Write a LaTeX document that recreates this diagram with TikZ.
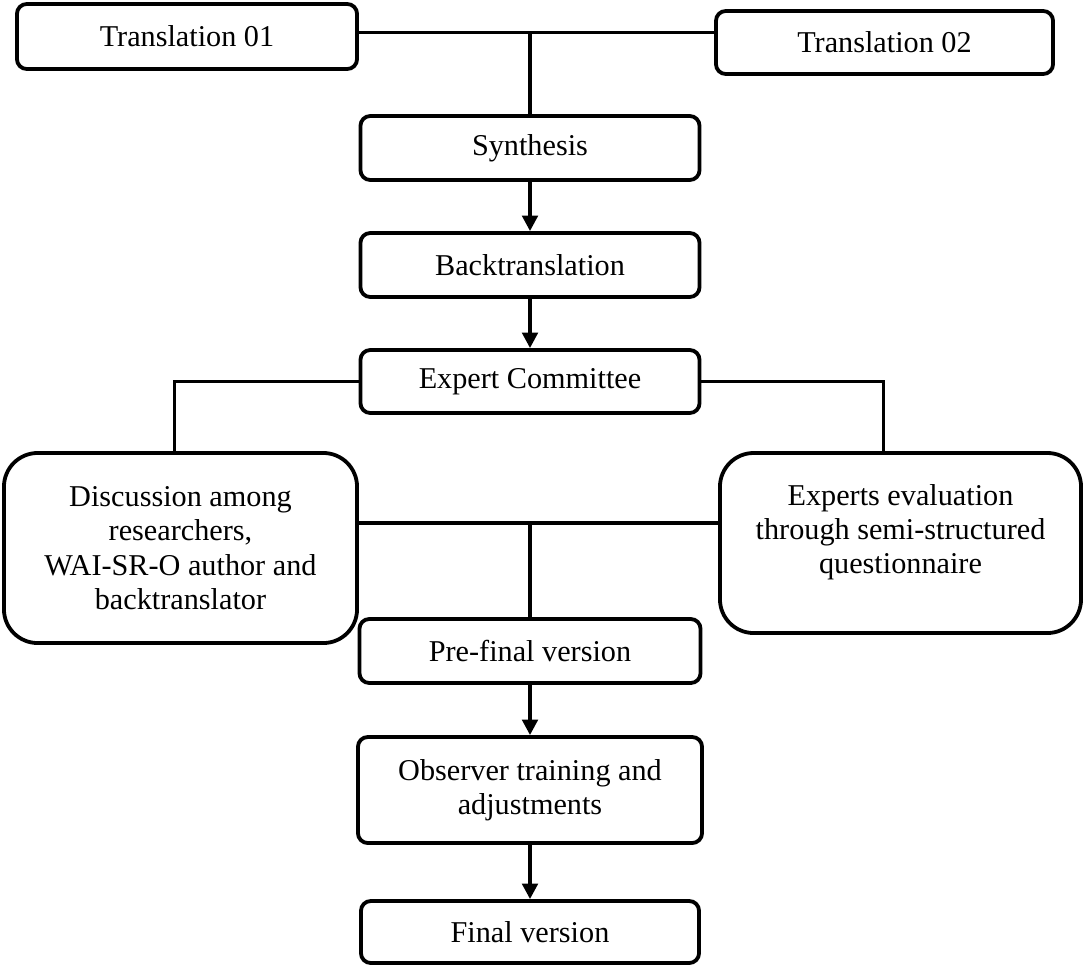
\documentclass[tikz,border=0pt]{standalone}
\usepackage{fontspec}
\setmainfont{Liberation Serif}
\usetikzlibrary{arrows.meta, calc}

\begin{document}
\begin{tikzpicture}[x=0.025cm, y=-0.025cm, >={Triangle[length=11pt, width=11pt]}, line width=2.5pt,
  box/.style={draw, line width=2.7pt, rounded corners=7pt, inner sep=0pt, align=center,
    minimum width=8.475cm, minimum height=1.6cm, font=\fontsize{21.5}{24.5}\selectfont},
  bigbox/.style={box, rounded corners=24pt}]

% Page frame
\useasboundingbox (0,0) rectangle (1084,969);

%% Translations
\node[box, minimum width=8.5cm, minimum height=1.625cm] (trans1) at (187,36.5) {Translation 01};
\node[box, minimum width=8.425cm, minimum height=1.575cm] (trans2) at (884.5,42.5) {Translation 02};

%% Main column
\node[box] (synth) at (530,148) {Synthesis};
\node[box] (backtr) at (530,265) {Backtranslation};
\node[box, minimum height=1.575cm] (expert) at (530,381.5) {Expert Committee};

%% Two branches
\node[bigbox, minimum width=8.825cm, minimum height=4.75cm] (discuss) at (180.5,548)
  {Discussion among\\researchers,\\WAI-SR-O author and\\backtranslator};
\node[bigbox, minimum width=9.025cm, minimum height=4.5cm, text depth=0.7cm] (evalq) at (900.5,543)
  {Experts evaluation\\through semi-structured\\questionnaire};

%% Final steps
\node[box, minimum width=8.525cm] (prefinal) at (530,651) {Pre-final version};
\node[box, minimum width=8.6cm, minimum height=2.65cm] (observe) at (530,790)
  {Observer training and\\adjustments};
\node[box, minimum width=8.45cm, minimum height=1.55cm] (final) at (530,932) {Final version};

% Join of the translations
\coordinate (top) at ([yshift=1mm]trans1.east);
\draw (top) -- (top -| trans2.west);
\draw (top -| synth.north) -- (synth.north);

% Straight chain
\draw[->] (synth) -- (backtr);
\draw[->] (backtr) -- (expert);

% Committee splits
\draw (expert.west) -| ([xshift=-1.5mm]discuss.north);
\draw (expert.east) -| ([xshift=-4.2mm]evalq.north);

% Branches join again
\coordinate (join) at ([yshift=6.2mm]discuss.east);
\draw (join) -- (join -| evalq.west);
\draw (join -| prefinal.north) -- (prefinal.north);

\draw[->] (prefinal) -- (observe);
\draw[->] (observe) -- (final);

\end{tikzpicture}
\end{document}
